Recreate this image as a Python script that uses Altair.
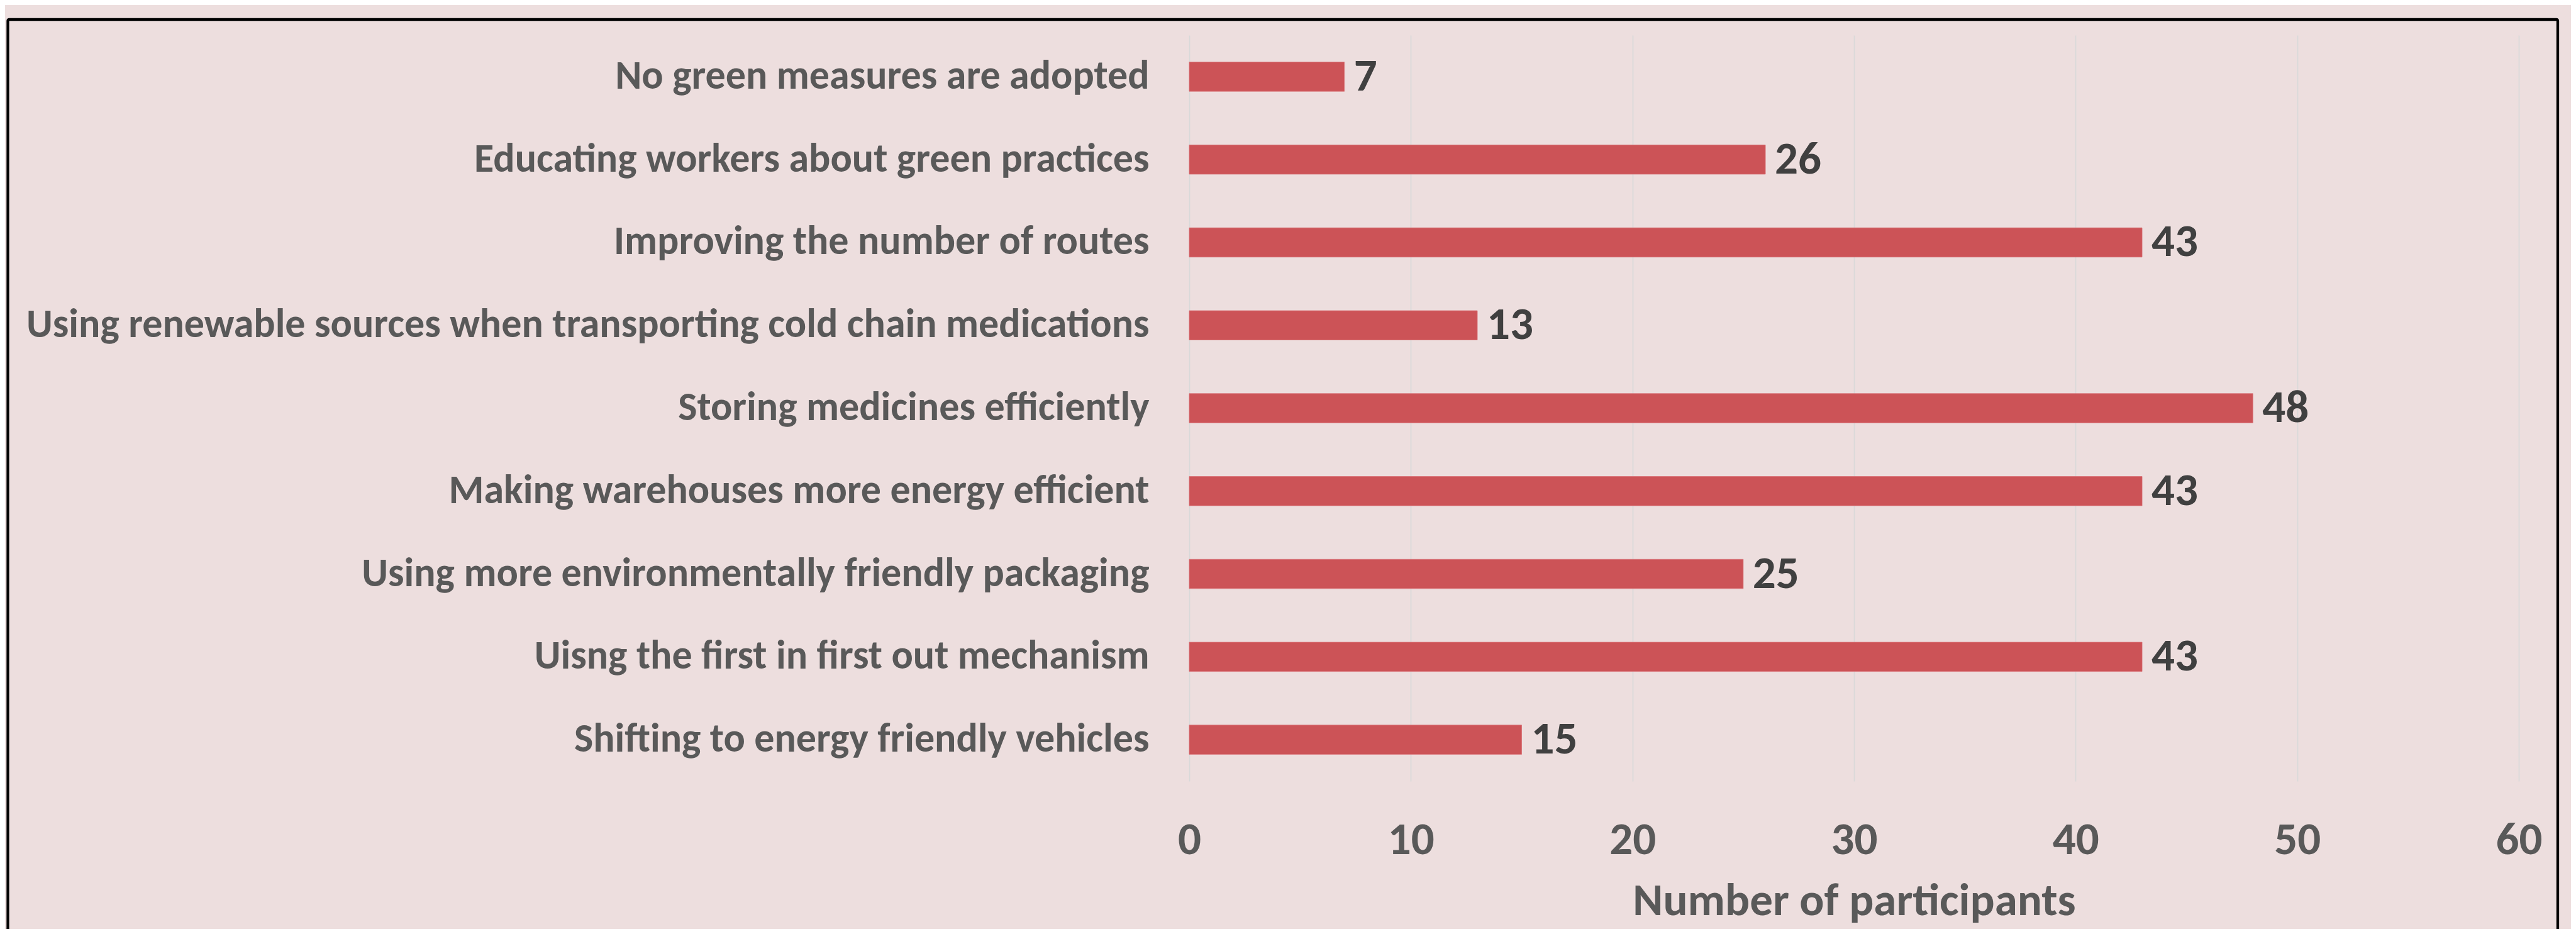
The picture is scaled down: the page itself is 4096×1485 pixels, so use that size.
import altair as alt
import pandas as pd

categories = [
    "No green measures are adopted",
    "Educating workers about green practices",
    "Improving the number of routes ",
    "Using renewable sources when transporting cold chain medications",
    "Storing medicines efficiently ",
    "Making warehouses more energy efficient",
    "Using more environmentally friendly packaging",
    "Uisng the first in first out mechanism",
    "Shifting to energy friendly vehicles",
]
participants = [7, 26, 43, 13, 48, 43, 25, 43, 15]
x_ticks = [0, 10, 20, 30, 40, 50, 60]

df = pd.DataFrame({"measure": categories, "count": participants})

FONT = "Carlito, Calibri, Lato"
BG = "#EDDEDE"
BAR = "#CC5357"
GRAY = "#595959"

W, H = 2114, 1186
PAD_L, PAD_T = 1883, 48
PAD_R, PAD_B = 4080 - PAD_L - W, 1469 - PAD_T - H

y_enc = alt.Y(
    "measure:N",
    sort=categories,
    scale=alt.Scale(paddingInner=0.647, paddingOuter=0.3235),
    axis=alt.Axis(
        title=None,
        domain=False,
        ticks=False,
        labelFont=FONT,
        labelFontWeight="bold",
        labelFontSize=64,
        labelColor=GRAY,
        labelPadding=64,
        labelLimit=0,
    ),
)

x_enc = alt.X(
    "count:Q",
    scale=alt.Scale(domain=[0, 60], nice=False),
    axis=alt.Axis(
        values=x_ticks,
        title="Number of participants",
        titleFont=FONT,
        titleFontWeight="bold",
        titleFontSize=73,
        titleColor=GRAY,
        titlePadding=24,
        domain=False,
        ticks=False,
        tickSize=0,
        labelFont=FONT,
        labelFontWeight="bold",
        labelFontSize=73,
        labelColor=GRAY,
        labelPadding=57,
        labelFlush=False,
        grid=True,
        gridColor="#D9D9D9",
        gridWidth=1.7,
    ),
)

bars = alt.Chart(df).mark_bar(color=BAR, stroke="#D97075", strokeWidth=0.8).encode(x=x_enc, y=y_enc)

labels = alt.Chart(df).mark_text(
    align="left",
    baseline="middle",
    dx=15,
    font=FONT,
    fontWeight="bold",
    fontSize=73,
    color="#404040",
).encode(x="count:Q", y=alt.Y("measure:N", sort=categories), text="count:Q")

frame = alt.Chart(pd.DataFrame({"k": [0]})).mark_rect(
    fill=None, stroke="black", strokeWidth=4.3, cornerRadius=2, clip=False
).encode(
    x=alt.value(4.5 - PAD_L),
    x2=alt.value(4059 - PAD_L),
    y=alt.value(23 - PAD_T),
    y2=alt.value(1469 - PAD_T + 60),
)

chart = (
    alt.layer(bars, labels, frame)
    .properties(
        width=W,
        height=H,
        autosize=alt.AutoSizeParams(type="none"),
        padding={"left": PAD_L, "top": PAD_T, "right": PAD_R, "bottom": PAD_B},
        background=BG,
    )
    .configure_view(stroke=None)
)

chart.save("out.html", embed_options={"renderer": "svg", "actions": False})
